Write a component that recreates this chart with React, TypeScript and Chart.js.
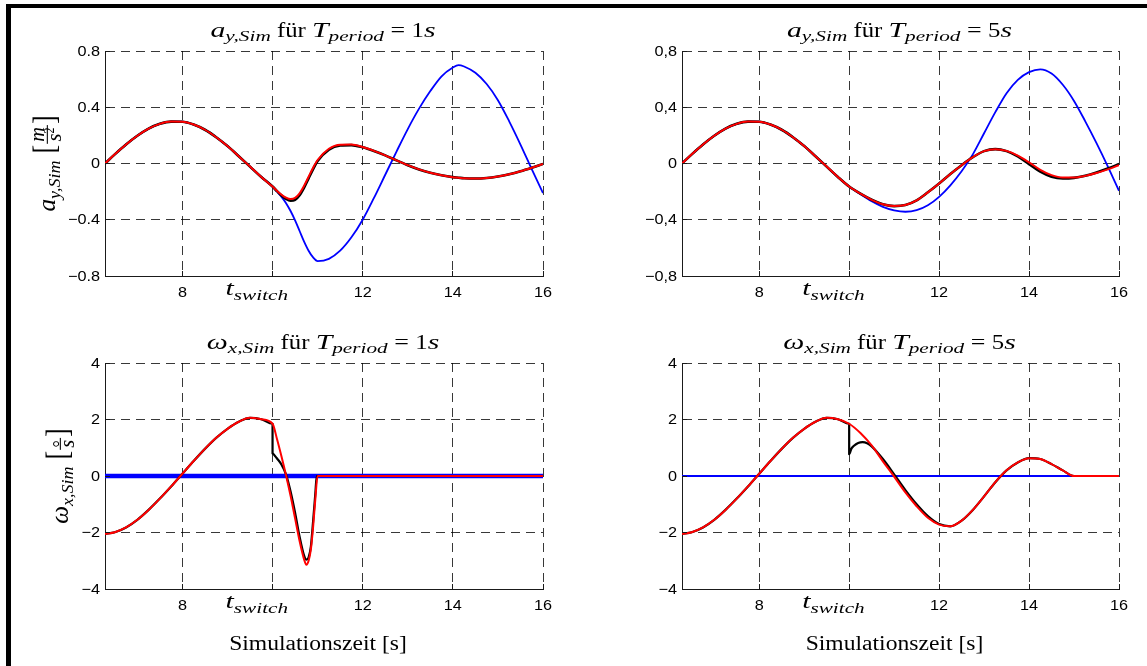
import { useEffect, useRef } from 'react';
import { Chart, registerables } from 'chart.js';

Chart.register(...registerables);

// ---------- shared time axis ----------
const X_MIN = 6.283; // simulation window starts at 2π
const X_MAX = 16;
const X_TICKS = [8, 10, 12, 14, 16];
const X_TICK_LABELS = ['8', '', '12', '14', '16'];
const T_SWITCH = 10;

// ---------- value axes ----------
const AY_TICKS = [-0.8, -0.4, 0, 0.4, 0.8];
const AY_LABELS_DOT = ['−0.8', '−0.4', '0', '0.4', '0.8'];
const AY_LABELS_COMMA = ['−0,8', '−0,4', '0', '0,4', '0,8'];
const W_TICKS = [-4, -2, 0, 2, 4];
const W_LABELS = ['−4', '−2', '0', '2', '4'];

// ---------- common course before t_switch ----------
const T_PRE = [6.283, 6.5, 6.75, 7.0, 7.25, 7.5, 7.75, 8.0, 8.25, 8.5, 8.75, 9.0, 9.25, 9.5, 9.75, 10.0];
const AY_PRE = [0, 0.065, 0.135, 0.197, 0.248, 0.282, 0.298, 0.297, 0.277, 0.24, 0.187, 0.124, 0.052, -0.022, -0.096, -0.164];
const W_PRE = [-2.05, -1.99, -1.82, -1.55, -1.2, -0.8, -0.37, 0.08, 0.53, 0.96, 1.35, 1.67, 1.92, 2.06, 2.01, 1.85];

// ---------- a_y, T_period = 1 s ----------
const T_AY1 = [10.1, 10.2, 10.3, 10.4, 10.5, 10.6, 10.7, 10.8, 10.9, 11.0, 11.25, 11.5, 11.75, 12.0, 12.25, 12.5, 12.75, 13.0, 13.25, 13.5, 13.75, 14.0, 14.125, 14.25, 14.5, 14.75, 15.0, 15.25, 15.5, 15.75, 16.0];
const AY1_RED = [-0.195, -0.222, -0.243, -0.253, -0.245, -0.212, -0.158, -0.094, -0.03, 0.025, 0.105, 0.134, 0.135, 0.117, 0.09, 0.058, 0.022, -0.012, -0.042, -0.066, -0.084, -0.097, -0.101, -0.105, -0.107, -0.103, -0.092, -0.076, -0.055, -0.03, -0.003];
const AY1_BLACK = [-0.197, -0.228, -0.252, -0.264, -0.258, -0.226, -0.172, -0.106, -0.04, 0.017, 0.098, 0.128, 0.131, 0.115, 0.089, 0.058, 0.022, -0.012, -0.042, -0.066, -0.084, -0.097, -0.101, -0.105, -0.107, -0.103, -0.092, -0.076, -0.055, -0.03, -0.003];
const AY1_BLUE = [-0.2, -0.237, -0.282, -0.338, -0.405, -0.48, -0.555, -0.62, -0.668, -0.694, -0.678, -0.62, -0.525, -0.4, -0.245, -0.08, 0.085, 0.245, 0.39, 0.515, 0.62, 0.682, 0.7, 0.69, 0.645, 0.565, 0.45, 0.3, 0.135, -0.04, -0.21];

// ---------- a_y, T_period = 5 s ----------
const T_AY5 = [10.25, 10.5, 10.75, 11.0, 11.25, 11.5, 11.75, 12.0, 12.25, 12.5, 12.75, 13.0, 13.25, 13.5, 13.75, 14.0, 14.25, 14.5, 14.75, 15.0, 15.25, 15.5, 15.75, 16.0];
const AY5_RED = [-0.215, -0.258, -0.29, -0.303, -0.295, -0.262, -0.205, -0.142, -0.075, -0.012, 0.045, 0.088, 0.102, 0.09, 0.056, 0.008, -0.045, -0.083, -0.1, -0.1, -0.088, -0.068, -0.042, -0.012];
const AY5_BLACK = [-0.215, -0.258, -0.29, -0.303, -0.295, -0.262, -0.205, -0.142, -0.075, -0.012, 0.045, 0.088, 0.102, 0.088, 0.05, -0.004, -0.058, -0.094, -0.106, -0.102, -0.087, -0.064, -0.036, -0.004];
const AY5_BLUE = [-0.218, -0.268, -0.308, -0.333, -0.343, -0.332, -0.297, -0.237, -0.155, -0.055, 0.065, 0.215, 0.365, 0.5, 0.595, 0.65, 0.67, 0.64, 0.56, 0.445, 0.3, 0.145, -0.02, -0.194];

// ---------- ω_x, T_period = 1 s ----------
const T_W1_RED = [10.1, 10.2, 10.3, 10.4, 10.5, 10.6, 10.7, 10.75, 10.8, 10.85, 10.9, 10.95, 11.0, 12.0, 13.0, 14.0, 15.0, 16.0];
const W1_RED = [1.3, 0.68, 0.02, -0.7, -1.5, -2.3, -2.95, -3.14, -3.0, -2.6, -1.8, -0.8, 0, 0, 0, 0, 0, 0];
const T_W1_BLACK = [10.0, 10.05, 10.1, 10.2, 10.3, 10.4, 10.5, 10.6, 10.7, 10.75, 10.8, 10.85, 10.9, 10.95, 10.98, 12.0, 13.0, 14.0, 15.0, 16.0];
const W1_BLACK = [0.8, 0.72, 0.62, 0.4, 0.05, -0.55, -1.3, -2.15, -2.82, -2.96, -2.88, -2.5, -1.6, -0.6, 0, 0, 0, 0, 0, 0];
const T_W_BLUE = [6.283, 16.0];
const W_BLUE = [0, 0];

// ---------- ω_x, T_period = 5 s ----------
const T_W5_RED = [10.25, 10.5, 10.75, 11.0, 11.25, 11.5, 11.75, 12.0, 12.25, 12.5, 12.75, 13.0, 13.25, 13.5, 13.75, 14.0, 14.25, 14.5, 14.75, 15.0, 15.5, 16.0];
const W5_RED = [1.52, 1.08, 0.52, -0.02, -0.58, -1.07, -1.48, -1.72, -1.78, -1.58, -1.2, -0.72, -0.22, 0.2, 0.48, 0.63, 0.6, 0.42, 0.2, 0, 0, 0];
const T_W5_BLACK = [10.0, 10.05, 10.1, 10.2, 10.3, 10.4, 10.5, 10.75, 11.0, 11.25, 11.5, 11.75, 12.0, 12.25, 12.5, 12.75, 13.0, 13.25, 13.5, 13.75, 14.0, 14.25, 14.5, 14.75, 15.0, 15.5, 16.0];
const W5_BLACK = [0.77, 0.97, 1.06, 1.17, 1.2, 1.16, 1.05, 0.6, 0.06, -0.5, -1.0, -1.42, -1.7, -1.78, -1.58, -1.2, -0.72, -0.22, 0.2, 0.48, 0.63, 0.6, 0.42, 0.2, 0, 0, 0];

// ---------- styling ----------
const SERIF = '"Liberation Serif", "Times New Roman", serif';
const SANS = '"Liberation Sans", Arial, sans-serif';
const STRETCH = 1.18; // lettering is drawn slightly wide
const TICK_STRETCH = 1.12;
const MATH = 1.2; // extra width for math italics
const GRID_COLOR = 'rgba(0,0,0,0.78)';
const AXIS_COLOR = '#1a1a1a';
const DASH = [9, 6];
const RED = '#ff0000';
const BLACK = '#000000';
const BLUE = '#0000ff';

type Piece = { text: string; size: number; italic?: boolean; rise?: number; sx?: number };

function pieceFont(p: Piece) {
  return `${p.italic ? 'italic ' : ''}${p.size}px ${SERIF}`;
}
function piecesWidth(ctx: CanvasRenderingContext2D, pieces: Piece[]) {
  let w = 0;
  for (const p of pieces) {
    ctx.font = pieceFont(p);
    w += ctx.measureText(p.text).width * (p.sx ?? 1);
  }
  return w;
}
function drawPieces(ctx: CanvasRenderingContext2D, pieces: Piece[], x0: number, y: number) {
  let x = x0;
  ctx.textAlign = 'left';
  ctx.textBaseline = 'alphabetic';
  for (const p of pieces) {
    ctx.font = pieceFont(p);
    const w = ctx.measureText(p.text).width;
    const sx = p.sx ?? 1;
    ctx.save();
    ctx.translate(x, y + (p.rise ?? 0));
    ctx.scale(sx, 1);
    ctx.fillText(p.text, 0, 0);
    ctx.restore();
    x += w * sx;
  }
  return x;
}

type Quantity = 'ay' | 'w';

function symbolPieces(q: Quantity): Piece[] {
  return q === 'ay'
    ? [{ text: 'a', size: 21, italic: true, sx: MATH }, { text: 'y,Sim', size: 15, italic: true, rise: 4, sx: MATH }]
    : [{ text: 'ω', size: 21, italic: true, sx: MATH }, { text: 'x,Sim', size: 15, italic: true, rise: 4, sx: MATH }];
}

function titlePieces(q: Quantity, period: string): Piece[] {
  return [
    ...symbolPieces(q),
    { text: ' für ', size: 21 },
    { text: 'T', size: 21, italic: true, sx: MATH },
    { text: 'period', size: 15, italic: true, rise: 4, sx: MATH },
    { text: ' = ', size: 22 },
    { text: period, size: 21 },
    { text: 's', size: 21, italic: true, sx: MATH },
  ];
}

const T_SWITCH_PIECES: Piece[] = [
  { text: 't', size: 21, italic: true, sx: MATH },
  { text: 'switch', size: 15, italic: true, rise: 5, sx: MATH },
];

function drawYTitle(ctx: CanvasRenderingContext2D, q: Quantity, baseX: number, centerY: number) {
  const head = symbolPieces(q);
  const num: Piece[] = q === 'ay' ? [{ text: 'm', size: 17, italic: true, sx: MATH }] : [{ text: '°', size: 18 }];
  const den: Piece[] = q === 'ay'
    ? [{ text: 's', size: 17, italic: true, sx: MATH }, { text: '2', size: 12, rise: -6 }]
    : [{ text: 's', size: 17, italic: true, sx: MATH }];
  const bracket: Piece = { text: '[', size: 26 };
  const closing: Piece = { text: ']', size: 26 };
  const headW = piecesWidth(ctx, head);
  const numW = piecesWidth(ctx, num);
  const denW = piecesWidth(ctx, den);
  const brW = piecesWidth(ctx, [bracket]);
  const fracW = Math.max(numW, denW) + 6;
  const gap = 7;
  const total = headW + gap + brW + fracW + brW;

  ctx.save();
  ctx.translate(baseX, centerY);
  ctx.scale(STRETCH, 1);
  ctx.rotate(-Math.PI / 2);
  let x = -total / 2;
  x = drawPieces(ctx, head, x, 0);
  x += gap;
  x = drawPieces(ctx, [bracket], x, 0);
  const axis = -6.5;
  ctx.fillRect(x + 1, axis - 0.45, fracW - 2, 0.9);
  drawPieces(ctx, num, x + (fracW - numW) / 2, q === 'ay' ? axis - 2.5 : axis + 6);
  drawPieces(ctx, den, x + (fracW - denW) / 2, axis + 12);
  x += fracW;
  drawPieces(ctx, [closing], x, 0);
  ctx.restore();
}

type Series = { t: number[]; v: number[]; color: string; width: number };
type Area = { left: number; top: number; right: number; bottom: number };
type PanelCfg = {
  area: Area;
  yMin: number;
  yMax: number;
  yTicks: number[];
  yLabels: string[];
  quantity: Quantity;
  period: string;
  yTitleX?: number;
  showXTitle: boolean;
  series: Series[]; // first entry is drawn on top
};

const CANVAS_W = 1147;
const CANVAS_H = 666;

const align = (p: number) => Math.round(p - 0.5) + 0.5;

function makeDecor(cfg: PanelCfg) {
  return {
    id: 'decor',
    afterDraw(chart: Chart) {
      const ctx = chart.ctx;
      const { left, right, top, bottom } = chart.chartArea;
      const xs = chart.scales.x;
      const ys = chart.scales.y;
      ctx.save();

      // inward tick marks
      ctx.strokeStyle = AXIS_COLOR;
      ctx.lineWidth = 1;
      ctx.setLineDash([]);
      ctx.beginPath();
      for (const v of X_TICKS) {
        const px = align(xs.getPixelForValue(v));
        ctx.moveTo(px, bottom);
        ctx.lineTo(px, bottom - 5);
      }
      for (const v of cfg.yTicks) {
        const py = align(ys.getPixelForValue(v));
        ctx.moveTo(left, py);
        ctx.lineTo(left + 5, py);
      }
      ctx.stroke();

      // tick labels
      ctx.fillStyle = '#000';
      ctx.font = `14.5px ${SANS}`;
      ctx.textAlign = 'right';
      ctx.textBaseline = 'middle';
      cfg.yTicks.forEach((v, i) => {
        ctx.save();
        ctx.translate(left - 5, ys.getPixelForValue(v) + 0.5);
        ctx.scale(TICK_STRETCH, 1);
        ctx.fillText(cfg.yLabels[i], 0, 0);
        ctx.restore();
      });
      ctx.textAlign = 'center';
      ctx.textBaseline = 'alphabetic';
      X_TICKS.forEach((v, i) => {
        if (!X_TICK_LABELS[i]) return;
        ctx.save();
        ctx.translate(xs.getPixelForValue(v), bottom + 20.5);
        ctx.scale(TICK_STRETCH, 1);
        ctx.fillText(X_TICK_LABELS[i], 0, 0);
        ctx.restore();
      });

      // t_switch marker label
      ctx.save();
      ctx.translate(xs.getPixelForValue(T_SWITCH) - 47, bottom + 18.5);
      ctx.scale(STRETCH, 1);
      drawPieces(ctx, T_SWITCH_PIECES, 0, 0);
      ctx.restore();

      // panel title
      const tp = titlePieces(cfg.quantity, cfg.period);
      const tw = piecesWidth(ctx, tp);
      ctx.save();
      ctx.translate((left + right) / 2 - 1, top - 14.5);
      ctx.scale(STRETCH, 1);
      drawPieces(ctx, tp, -tw / 2, 0);
      ctx.restore();

      // axis titles
      if (cfg.yTitleX !== undefined) {
        drawYTitle(ctx, cfg.quantity, cfg.yTitleX, (top + bottom) / 2);
      }
      if (cfg.showXTitle) {
        const xp: Piece[] = [{ text: 'Simulationszeit [s]', size: 20 }];
        const xw = piecesWidth(ctx, xp);
        ctx.save();
        ctx.translate((left + right) / 2 - 6, bottom + 61);
        ctx.scale(STRETCH, 1);
        drawPieces(ctx, xp, -xw / 2, 0);
        ctx.restore();
      }
      ctx.restore();
    },
  };
}

function Panel({ cfg }: { cfg: PanelCfg }) {
  const ref = useRef<HTMLCanvasElement | null>(null);
  useEffect(() => {
    const canvas = ref.current;
    if (!canvas) return;
    const datasets = cfg.series.map((s) => ({
      data: s.t.map((x, i) => ({ x, y: s.v[i] })),
      borderColor: s.color,
      borderWidth: s.width,
      pointRadius: 0,
      fill: false,
      cubicInterpolationMode: 'monotone' as const,
      borderJoinStyle: 'round' as const,
    }));
    const gridScale = {
      type: 'linear' as const,
      grid: { color: GRID_COLOR, lineWidth: 1, drawTicks: false },
      border: { display: true, color: AXIS_COLOR, width: 1, dash: DASH },
      ticks: { display: false },
    };
    const chart = new Chart(canvas, {
      type: 'line',
      data: { datasets },
      options: {
        responsive: false,
        animation: false,
        events: [],
        parsing: false,
        layout: {
          padding: {
            left: cfg.area.left,
            top: cfg.area.top,
            right: CANVAS_W - cfg.area.right,
            bottom: CANVAS_H - cfg.area.bottom,
          },
        },
        plugins: { legend: { display: false }, tooltip: { enabled: false }, title: { display: false } },
        scales: {
          x: {
            ...gridScale,
            min: X_MIN,
            max: X_MAX,
            afterBuildTicks: (s: any) => {
              s.ticks = X_TICKS.map((value) => ({ value }));
            },
          },
          y: {
            ...gridScale,
            min: cfg.yMin,
            max: cfg.yMax,
            afterBuildTicks: (s: any) => {
              s.ticks = cfg.yTicks.map((value) => ({ value }));
            },
          },
        },
      },
      plugins: [makeDecor(cfg)],
    });
    return () => chart.destroy();
  }, [cfg]);
  return (
    <canvas
      ref={ref}
      width={CANVAS_W}
      height={CANVAS_H}
      style={{ position: 'absolute', left: 0, top: 0, width: CANVAS_W, height: CANVAS_H }}
    />
  );
}

const join = (a: number[], b: number[]) => [...a, ...b];

const PANELS: PanelCfg[] = [
  {
    area: { left: 105, top: 51, right: 543, bottom: 276 },
    yMin: -0.8, yMax: 0.8, yTicks: AY_TICKS, yLabels: AY_LABELS_DOT,
    quantity: 'ay', period: '1', yTitleX: 55, showXTitle: false,
    series: [
      { t: join(T_PRE, T_AY1), v: join(AY_PRE, AY1_RED), color: RED, width: 2 },
      { t: join(T_PRE, T_AY1), v: join(AY_PRE, AY1_BLACK), color: BLACK, width: 2.6 },
      { t: join(T_PRE, T_AY1), v: join(AY_PRE, AY1_BLUE), color: BLUE, width: 1.8 },
    ],
  },
  {
    area: { left: 682, top: 51, right: 1119, bottom: 276 },
    yMin: -0.8, yMax: 0.8, yTicks: AY_TICKS, yLabels: AY_LABELS_COMMA,
    quantity: 'ay', period: '5', showXTitle: false,
    series: [
      { t: join(T_PRE, T_AY5), v: join(AY_PRE, AY5_RED), color: RED, width: 2 },
      { t: join(T_PRE, T_AY5), v: join(AY_PRE, AY5_BLACK), color: BLACK, width: 2.6 },
      { t: join(T_PRE, T_AY5), v: join(AY_PRE, AY5_BLUE), color: BLUE, width: 1.8 },
    ],
  },
  {
    area: { left: 105, top: 363, right: 543, bottom: 589 },
    yMin: -4, yMax: 4, yTicks: W_TICKS, yLabels: W_LABELS,
    quantity: 'w', period: '1', yTitleX: 68, showXTitle: true,
    series: [
      { t: join(T_PRE, T_W1_RED), v: join(W_PRE, W1_RED), color: RED, width: 2 },
      { t: join(T_PRE, T_W1_BLACK), v: join(W_PRE, W1_BLACK), color: BLACK, width: 2.2 },
      { t: T_W_BLUE, v: W_BLUE, color: BLUE, width: 4.5 },
    ],
  },
  {
    area: { left: 682, top: 363, right: 1119, bottom: 589 },
    yMin: -4, yMax: 4, yTicks: W_TICKS, yLabels: W_LABELS,
    quantity: 'w', period: '5', showXTitle: true,
    series: [
      { t: join(T_PRE, T_W5_RED), v: join(W_PRE, W5_RED), color: RED, width: 2 },
      { t: join(T_PRE, T_W5_BLACK), v: join(W_PRE, W5_BLACK), color: BLACK, width: 2.2 },
      { t: T_W_BLUE, v: W_BLUE, color: BLUE, width: 2 },
    ],
  },
];

export default function App() {
  return (
    <div
      style={{
        position: 'absolute',
        left: 0,
        top: 0,
        width: CANVAS_W,
        height: CANVAS_H,
        background: '#fff',
        overflow: 'hidden',
      }}
    >
      <div style={{ position: 'absolute', left: 6, top: 4, width: CANVAS_W - 6, height: 4, background: '#000' }} />
      <div style={{ position: 'absolute', left: 6, top: 4, width: 5, height: CANVAS_H - 4, background: '#000' }} />
      {PANELS.map((cfg, i) => (
        <Panel key={i} cfg={cfg} />
      ))}
    </div>
  );
}
